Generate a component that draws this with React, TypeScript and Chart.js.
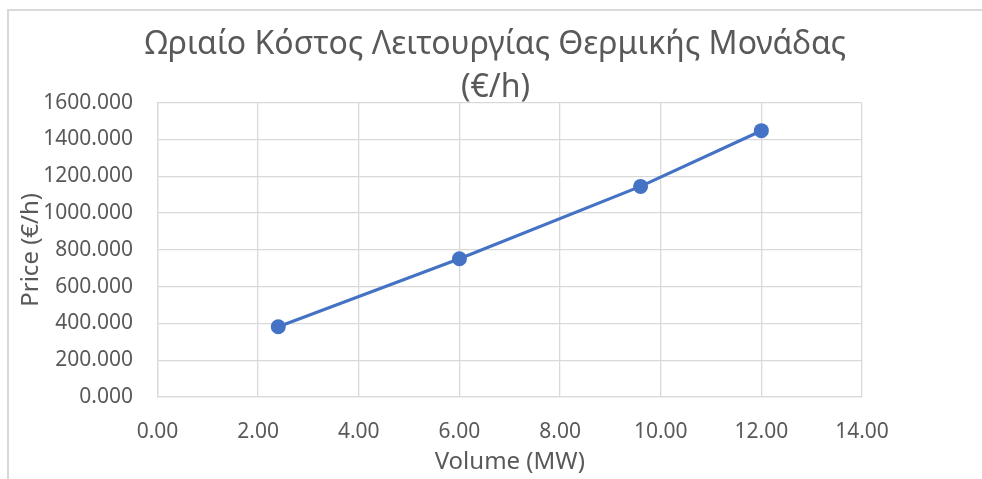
import React, { useEffect, useRef } from "react";
import { Chart, registerables } from "chart.js";

Chart.register(...registerables);

const volumes = [2.4, 6, 9.6, 12];
const prices = [382, 752, 1145, 1448];
const titleLines = ["Ωριαίο Κόστος Λειτουργίας Θερμικής Μονάδας", "(€/h)"];
const xTitle = "Volume (MW)";
const yTitle = "Price (€/h)";
const xMin = 0, xMax = 14, xStep = 2;
const yMin = 0, yMax = 1600, yStep = 200;

const FONT = "'Noto Sans', 'DejaVu Sans', sans-serif";
const TEXT = "#595959";
const GRID = "#d9d9d9";
const BLUE = "#4472C4";

export default function App() {
  const ref = useRef<HTMLCanvasElement | null>(null);
  useEffect(() => {
    if (!ref.current) return;
    const chart = new Chart(ref.current, {
      type: "scatter",
      data: {
        datasets: [
          {
            label: "Cost",
            data: volumes.map((v, i) => ({ x: v, y: prices[i] })),
            showLine: true,
            borderColor: BLUE,
            backgroundColor: BLUE,
            borderWidth: 3.2,
            pointRadius: 7.5,
            pointHoverRadius: 7.5,
            pointBorderWidth: 0,
          },
        ],
      },
      options: {
        animation: false,
        responsive: false,
        maintainAspectRatio: false,
        layout: { padding: { left: 0, right: 0, top: 0, bottom: 0 } },
        plugins: {
          legend: { display: false },
          tooltip: { enabled: false },
          title: {
            display: true,
            text: titleLines,
            color: TEXT,
            font: { family: FONT, size: 32, weight: "normal", lineHeight: 1.344 },
            padding: { top: 12.5, bottom: -6.8 },
          },
        },
        scales: {
          x: {
            type: "linear",
            min: xMin,
            max: xMax,
            ticks: {
              stepSize: xStep,
              color: TEXT,
              font: { family: FONT, size: 21 },
              padding: 22,
              callback: (v: any) => Number(v).toFixed(2),
            },
            grid: { color: GRID, lineWidth: 1.3, drawTicks: false },
            border: { display: true, color: GRID, width: 1.3 },
            title: {
              display: true,
              text: xTitle,
              color: TEXT,
              font: { family: FONT, size: 24, lineHeight: 1.2 },
              padding: { top: 7, bottom: 2 },
            },
            afterFit: (scale: any) => {
              scale.height = 82;
            },
          },
          y: {
            type: "linear",
            min: yMin,
            max: yMax,
            ticks: {
              stepSize: yStep,
              color: TEXT,
              font: { family: FONT, size: 21 },
              padding: 24.5,
              callback: (v: any) => Number(v).toFixed(3),
            },
            grid: { color: GRID, lineWidth: 1.3, drawTicks: false },
            border: { display: true, color: GRID, width: 1.3 },
            title: {
              display: true,
              text: yTitle,
              color: TEXT,
              font: { family: FONT, size: 24, lineHeight: 1.2 },
              padding: { top: 7.6, bottom: 0 },
            },
            afterFit: (scale: any) => {
              scale.width = 148.5;
            },
          },
          yRight: {
            type: "linear",
            position: "right",
            display: true,
            ticks: { display: false },
            grid: { display: false, drawTicks: false },
            border: { display: false },
            title: { display: false },
            afterFit: (scale: any) => {
              scale.width = 120;
            },
          },
        },
      },
    });
    return () => chart.destroy();
  }, []);

  return (
    <div
      style={{
        position: "fixed",
        left: 0,
        top: 0,
        width: 982,
        height: 479,
        background: "#fff",
        overflow: "hidden",
      }}
    >
      <div
        style={{
          position: "absolute",
          left: 7,
          top: 9,
          width: 975,
          height: 470,
          borderTop: "2px solid #d9d9d9",
          borderLeft: "2px solid #d9d9d9",
          boxSizing: "border-box",
        }}
      >
        <canvas ref={ref} width={973} height={468} style={{ display: "block" }} />
      </div>
    </div>
  );
}
